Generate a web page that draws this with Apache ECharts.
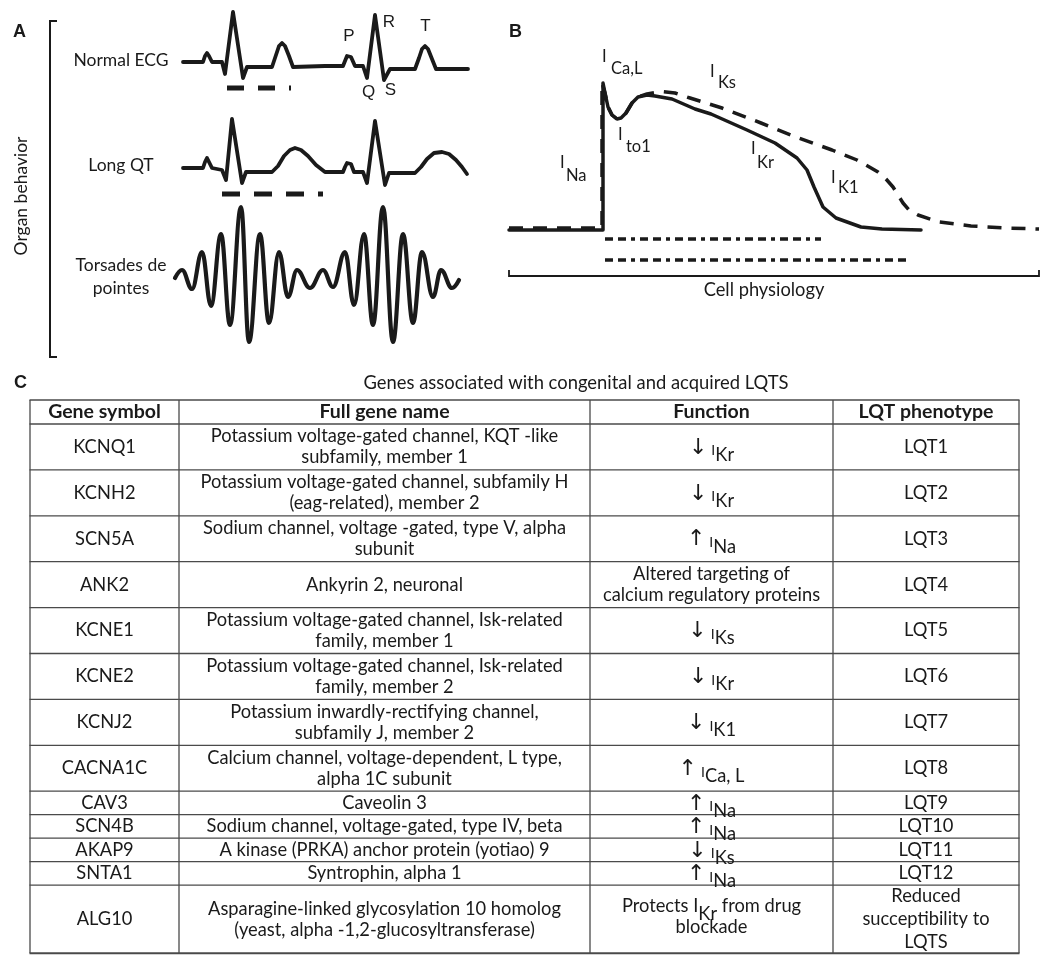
<!DOCTYPE html>
<html><head><meta charset="utf-8">
<script src="https://cdn.jsdelivr.net/npm/echarts@6/dist/echarts.min.js"></script>
<style>html,body{margin:0;padding:0;background:#fff}#c{width:1050px;height:963px}</style>
</head><body><div id="c"></div>
<script>
// ---------- Panel A: ECG traces (time, amplitude), schematic units ----------
const normalEcg = [[0,0],[20,0],[22,6],[24,9],[26,6],[29,0],[39,0],[42,-12],[50,50],[60,-16],[64,-5],[89,-5],[93,7],[96,16],[99,19],[102,16],[106,6],[110,-5],[142,-4],[160,-4],[162,1],[164,6],[166,7],[168,5],[172,-4],[180,-4],[184,-16],[192,47],[201,-18],[207,-7],[232,-7],[236,4],[239,13],[242,16],[245,13],[249,3],[253,-7],[285,-7]];
const normalQtBar = [[44,-26],[108,-26]];
const longQtEcg = [[0,0],[20,0],[22,6],[24,10],[26,6],[29,0],[39,-2],[43,-12],[49,49],[59,-15],[63,-4],[89,-4],[95,2],[101,12],[107,18],[112,20],[118,18],[125,12],[133,3],[142,-4],[160,-4],[162,1],[164,5],[166,6],[168,4],[171,-4],[180,-4],[184,-15],[192,47],[202,-17],[206,-5],[232,-5],[238,1],[244,9],[251,15],[259,16],[266,14],[273,8],[279,1],[284,-6]];
const longQtBar = [[39,-26],[140,-26]];
const torsades = [[0,-3],[7,5],[17,-14],[27,23],[36,-31],[46,41],[55,-50],[66,68],[74,-67],[85,41],[94,-48],[104,23],[113,-22],[122,5],[135,-13],[148,5],[158,-12],[170,23],[179,-30],[189,41],[198,-50],[208,68],[218,-67],[228,41],[238,-48],[247,23],[258,-22],[266,5],[277,-13],[284,-5]];

// ---------- Panel B: action potentials (time, relative potential) ----------
const apNormal = [[0,0],[94,0],[94,147],[96,137],[99,123],[103,115],[108,111],[112,112],[117,117],[123,127],[129,133],[138,135],[146,134],[163,131],[186,121],[202,116],[238,100],[266,87],[288,72],[298,60],[305,43],[314,23],[327,12],[352,3],[373,1],[412,0]];
const apLong = [[0,2],[93,2],[93,147],[96,137],[99,123],[103,115],[108,111],[112,112],[117,117],[123,127],[129,133],[138,136],[152,138.5],[166,137],[181,132],[213,122],[252,107],[287,93],[323,80],[348,70],[369,58],[377,51],[384,43],[394,27],[400,20],[409,15],[430,8],[462,4],[498,2],[530,1]];
const apdNormal = [[96,-9],[312,-9]];
const apdLong = [[96,-30],[398,-30]];
const cellBracket = [[0,-40],[0,-46],[530,-46],[530,-40]];

// ---------- Panel C: table ----------
const tableTitle = 'Genes associated with congenital and acquired LQTS';
const headers = ['Gene symbol','Full gene name','Function','LQT phenotype'];
const genes = ['KCNQ1','KCNH2','SCN5A','ANK2','KCNE1','KCNE2','KCNJ2','CACNA1C','CAV3','SCN4B','AKAP9','SNTA1','ALG10'];
const fullNames = [
 'Potassium voltage-gated channel, KQT -like\nsubfamily, member 1',
 'Potassium voltage-gated channel, subfamily H\n(eag-related), member 2',
 'Sodium channel, voltage -gated, type V, alpha\nsubunit',
 'Ankyrin 2, neuronal',
 'Potassium voltage-gated channel, Isk-related\nfamily, member 1',
 'Potassium voltage-gated channel, Isk-related\nfamily, member 2',
 'Potassium inwardly-rectifying channel,\nsubfamily J, member 2',
 'Calcium channel, voltage-dependent, L type,\nalpha 1C subunit',
 'Caveolin 3',
 'Sodium channel, voltage-gated, type IV, beta',
 'A kinase (PRKA) anchor protein (yotiao) 9',
 'Syntrophin, alpha 1',
 'Asparagine-linked glycosylation 10 homolog\n(yeast, alpha -1,2-glucosyltransferase)'];
const functions = ['↓I{Kr}','↓I{Kr}','↑I{Na}','Altered targeting of\ncalcium regulatory proteins','↓I{Ks}','↓I{Kr}','↓I{K1}','↑I{Ca, L}','↑I{Na}','↑I{Na}','↓I{Ks}','↑I{Na}','Protects I{Kr} from drug\nblockade'];
const phenotypes = ['LQT1','LQT2','LQT3','LQT4','LQT5','LQT6','LQT7','LQT8','LQT9','LQT10','LQT11','LQT12','Reduced\nsucceptibility to\nLQTS'];

// ---------- build ----------
const INK = '#1a1a1a', RULE = '#4a4a4a', FONT = 'Lato', BODY = 18.3;
const chart = echarts.init(document.getElementById('c'), null, {renderer:'canvas'});

const grids = [
  {left:183, top:0, width:285, height:100},
  {left:183, top:106, width:285, height:100},
  {left:175, top:195, width:290, height:160},
  {left:509, top:50, width:531, height:230}
];
const xr = [[0,285],[0,285],[0,290],[0,531]];
const yr = [[-38,62],[-38,62],[-80,80],[-50,180]];
const xAxis = xr.map((r,i)=>({type:'value', gridIndex:i, min:r[0], max:r[1], show:false}));
const yAxis = yr.map((r,i)=>({type:'value', gridIndex:i, min:r[0], max:r[1], show:false}));

function L(data, gi, ls, extra){
  return Object.assign({type:'line', xAxisIndex:gi, yAxisIndex:gi, data, symbol:'none', showSymbol:false, clip:false, silent:true, animation:false,
    lineStyle:Object.assign({color:INK, width:3.8, cap:'round', join:'round'}, ls||{})}, extra||{});
}
const series = [
  L(normalEcg,0),
  L(normalQtBar,0,{width:5, cap:'butt', type:[17,14]}),
  L(longQtEcg,1),
  L(longQtBar,1,{width:5, cap:'butt', type:[18,14]}),
  L(torsades,2,{width:4.2},{smooth:0.4, smoothMonotone:'x'}),
  L(apNormal,3,{width:3.5}),
  L(apLong,3,{width:3.5, cap:'butt', type:[14,10]}),
  L(apdNormal,3,{width:3.5, cap:'butt', type:[8,5,8,5,4,5]}),
  L(apdLong,3,{width:3.5, cap:'butt', type:[8,5,8,5,4,5]}),
  L(cellBracket,3,{width:1.8, cap:'butt', join:'miter'})
];

const gfx = [];
function txt(x,y,text,o){ gfx.push({type:'text', x, y, silent:true, style:Object.assign({text, fill:INK, fontFamily:FONT, fontSize:BODY, align:'center', verticalAlign:'middle'}, o||{})}); }
function ln(x1,y1,x2,y2,w,c){ gfx.push({type:'line', silent:true, shape:{x1,y1,x2,y2}, style:{stroke:c||RULE, lineWidth:w||1.3}}); }

// Panel A decorations
txt(13,32,'A',{fontFamily:'Liberation Sans', fontWeight:'bold', fontSize:18, align:'left'});
gfx.push({type:'polyline', silent:true, shape:{points:[[57,21],[50,21],[50,357],[57,357]]}, style:{stroke:INK, lineWidth:2, fill:null}});
gfx.push({type:'text', x:21, y:196, rotation:Math.PI/2, silent:true, style:{text:'Organ behavior', fill:INK, fontFamily:FONT, fontSize:17.5, align:'center', verticalAlign:'middle'}});
txt(121,60,'Normal ECG',{fontSize:17.5});
txt(121,165,'Long QT',{fontSize:17.5});
txt(121,277,'Torsades de\npointes',{lineHeight:23, fontSize:17.5});
const wl = {fontFamily:'Liberation Sans', fontSize:17};
txt(349,36,'P',wl); txt(389,22,'R',wl); txt(425.5,26,'T',wl); txt(368.5,92,'Q',wl); txt(390.5,90,'S',wl);

// Panel B decorations
txt(509,32,'B',{fontFamily:'Liberation Sans', fontWeight:'bold', fontSize:18, align:'left'});
txt(764,290,'Cell physiology');
const curLabels = [['Ca,L',602,57,611,69],['Ks',710,72,718,83],['to1',618,135,626,147],['Na',560,163,566,176],['Kr',751,149,757,163],['K1',831,178,838,188]];
curLabels.forEach(c=>{ txt(c[1],c[2],'I',{align:'left', fontSize:16.5}); txt(c[3],c[4],c[0],{align:'left', fontSize:16.5}); });

// Panel C
txt(14,383,'C',{fontFamily:'Liberation Sans', fontWeight:'bold', fontSize:18, align:'left'});
txt(576,383,tableTitle,{fontSize:18.4});
const cols = [30,179,590,833,1019];
const nLines = s => s.split('\n').length;
const rowH = n => n===1 ? 23.5 : (n===2 ? 45.9 : 68);
const rowsY = [400, 424];
genes.forEach((g,i)=>{ const n = Math.max(nLines(fullNames[i]), nLines(functions[i]), nLines(phenotypes[i])); rowsY.push(rowsY[rowsY.length-1] + rowH(n)); });
const yEnd = rowsY[rowsY.length-1];
rowsY.forEach((y,i)=> ln(cols[0]-0.5, y, cols[4]+0.5, y, (i===rowsY.length-1)?2:1.3));
cols.forEach(x=> ln(x, rowsY[0], x, yEnd, 1.3));
const cx = [0,1,2,3].map(i=>(cols[i]+cols[i+1])/2);
headers.forEach((h,i)=> txt(cx[i], 412, h, {fontWeight:'bold', fontSize:19.5}));
const rich = {
  a:{fontFamily:'DejaVu Sans', fontSize:22, lineHeight:22, verticalAlign:'top', padding:[0,3,0,0], color:INK},
  i:{fontFamily:FONT, fontSize:14, lineHeight:14, verticalAlign:'top', padding:[7,0,0,1], color:INK},
  s:{fontFamily:FONT, fontSize:BODY, lineHeight:19, verticalAlign:'top', padding:[9,0,0,0], color:INK},
  j:{fontFamily:FONT, fontSize:BODY, lineHeight:21, color:INK},
  t:{fontFamily:FONT, fontSize:BODY, lineHeight:19, verticalAlign:'top', padding:[10,0,0,0], color:INK}
};
genes.forEach((g,i)=>{
  const ym = (rowsY[i+1]+rowsY[i+2])/2;
  txt(cx[0], ym, g);
  txt(cx[1], ym, fullNames[i], {lineHeight:21});
  const f = functions[i];
  if (/^[↑↓]/.test(f)) {
    const r = f.replace(/([↑↓])/g,'{a|$1}').replace(/I\{([^}]*)\}/g,'{i|I}{s|$1}');
    txt(cx[2], ym + (nLines(f)>1?0:1), r, {rich, lineHeight:22});
  } else if (f.indexOf('{')>=0) {
    const r = f.replace(/I\{([^}]*)\}/g,'{j|I}{t|$1}');
    txt(cx[2], ym - 3, r, {rich, lineHeight:21});
  } else {
    txt(cx[2], ym, f, {lineHeight:21});
  }
  txt(cx[3], ym, phenotypes[i], {lineHeight:23});
});

chart.setOption({animation:false, backgroundColor:'#fff', grid:grids, xAxis, yAxis, series, graphic:{elements:gfx}});
</script></body></html>
